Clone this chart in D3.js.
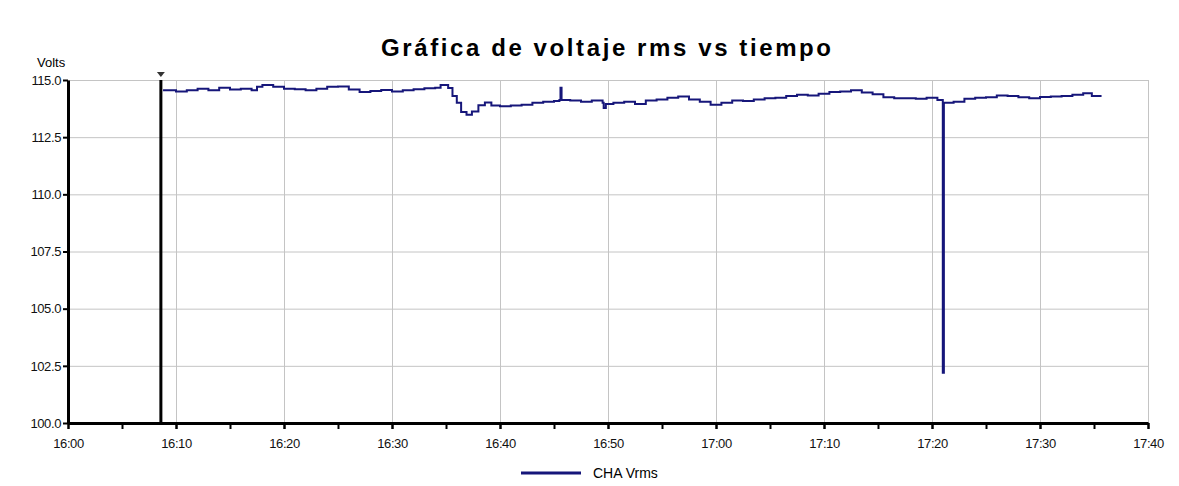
<!DOCTYPE html>
<html>
<head>
<meta charset="utf-8">
<script src="https://cdn.jsdelivr.net/npm/d3@7"></script>
<style>
  body { margin: 0; background: #fff; font-family: "Liberation Sans", Arial, sans-serif; }
  .grid line { stroke: #c4c4c4; stroke-width: 1; }
  .grid path { display: none; }
  .axis text { font-size: 13px; fill: #111; letter-spacing: -0.4px; }
  .axis path, .axis line { stroke: #000; }
</style>
</head>
<body>
<div id="container"></div>
<script>
// minutes after 16:00 for each sample and the CHA Vrms reading
const minutes = [8.8, 10, 11, 12, 13, 14, 15, 16, 17, 17.5, 18, 19, 20, 21, 22, 23, 24, 25, 26, 27, 28, 29, 30,
  31, 32, 33, 34, 34.5, 35.2, 35.6, 36, 36.4, 36.9, 37.4, 38, 38.6, 39.2, 40, 41, 42, 43, 44, 45, 45.5, 45.6, 45.7,
  46.5, 47.5, 48.5, 49.5, 49.6, 49.8, 50.5, 51.5, 52.5, 53.5, 54.5, 55.5, 56.5, 57.5, 58.5, 59.5, 60.5, 61.5,
  62.5, 63.5, 64.5, 65.5, 66.5, 67.5, 68.5, 69.5, 70.5, 71.5, 72.5, 73.5, 74.5, 75.5, 76.5, 77.5, 78.5, 79.5,
  80.5, 81.0, 81.1, 82, 83, 84, 85, 86, 87, 88, 89, 90, 91, 92, 93, 94, 94.8, 95.7];
const vrms = [114.55, 114.50, 114.55, 114.62, 114.55, 114.66, 114.58, 114.62, 114.55, 114.70, 114.78, 114.70,
  114.62, 114.60, 114.55, 114.62, 114.70, 114.72, 114.58, 114.48, 114.52, 114.56, 114.50, 114.55, 114.60,
  114.64, 114.66, 114.78, 114.65, 114.30, 114.00, 113.60, 113.48, 113.62, 113.90, 114.02, 113.88, 113.85,
  113.88, 113.92, 114.00, 114.05, 114.08, 114.12, 114.66, 114.12, 114.10, 114.05, 114.10, 114.00, 113.78,
  113.95, 114.00, 114.05, 113.95, 114.10, 114.15, 114.22, 114.28, 114.15, 114.05, 113.92, 114.00, 114.10,
  114.08, 114.15, 114.20, 114.22, 114.30, 114.35, 114.32, 114.40, 114.48, 114.50, 114.55, 114.45, 114.38,
  114.25, 114.20, 114.20, 114.18, 114.22, 114.12, 102.2, 114.00, 114.05, 114.18, 114.22, 114.25, 114.32,
  114.30, 114.25, 114.20, 114.26, 114.28, 114.30, 114.35, 114.42, 114.30, 114.30];
const yTicks = [100.0, 102.5, 105.0, 107.5, 110.0, 112.5, 115.0];
const cursorMinute = 8.6;
const seriesName = "CHA Vrms";

const W = 1179, H = 486;
const margin = {left: 68, right: 31, top: 80, bottom: 63};
const width = W - margin.left - margin.right;
const height = H - margin.top - margin.bottom;

const base = new Date(2000, 0, 1, 16, 0, 0);
const toDate = m => new Date(base.getTime() + m * 60000);
const data = minutes.map((m, i) => ({t: toDate(m), v: vrms[i]}));

const svg = d3.select("#container").append("svg")
  .attr("width", W)
  .attr("height", H);

const chart = svg.append("g")
  .attr("transform", `translate(${margin.left},${margin.top})`);

const x = d3.scaleTime()
  .domain([toDate(0), toDate(100)])
  .range([0, width]);

const y = d3.scaleLinear()
  .domain([100, 115])
  .range([height, 0]);

// grid
chart.append("g")
  .attr("class", "grid")
  .attr("transform", `translate(0,${height})`)
  .call(d3.axisBottom(x).ticks(d3.timeMinute.every(10)).tickSize(-height).tickFormat(""));

chart.append("g")
  .attr("class", "grid")
  .call(d3.axisLeft(y).tickValues(yTicks).tickSize(-width).tickFormat(""));

// minor ticks every 5 min
chart.append("g")
  .attr("class", "axis")
  .attr("transform", `translate(0,${height})`)
  .call(d3.axisBottom(x).ticks(d3.timeMinute.every(5)).tickSize(6).tickFormat(""))
  .call(g => g.selectAll("line").attr("stroke-width", 2))
  .call(g => g.select(".domain").remove());

// x axis
chart.append("g")
  .attr("class", "axis")
  .attr("transform", `translate(0,${height})`)
  .call(d3.axisBottom(x).ticks(d3.timeMinute.every(10)).tickFormat(d3.timeFormat("%H:%M")).tickSize(6).tickSizeOuter(0))
  .call(g => g.select(".domain").attr("stroke-width", 3))
  .call(g => g.selectAll("line").attr("stroke-width", 2))
  .call(g => g.selectAll("text").attr("dy", "1.2em"));

// y axis
chart.append("g")
  .attr("class", "axis")
  .call(d3.axisLeft(y).tickValues(yTicks).tickFormat(d3.format(".1f")).tickSize(5).tickSizeOuter(0))
  .call(g => g.select(".domain").attr("stroke-width", 3))
  .call(g => g.selectAll("line").attr("stroke-width", 2))
  .call(g => g.selectAll("text").attr("x", -7));

// series
const line = d3.line()
  .x(d => x(d.t))
  .y(d => y(d.v))
  .curve(d3.curveStepAfter);

chart.append("path")
  .datum(data)
  .attr("fill", "none")
  .attr("stroke", "#16167a")
  .attr("stroke-width", 2)
  .attr("d", line);

// cursor
const cx = x(toDate(cursorMinute));
chart.append("line")
  .attr("x1", cx).attr("x2", cx)
  .attr("y1", 0).attr("y2", height)
  .attr("stroke", "#000")
  .attr("stroke-width", 3);
chart.append("path")
  .attr("d", `M${cx - 4},-8 L${cx + 4},-8 L${cx},-3 Z`)
  .attr("fill", "#333");

// title + labels
svg.append("text")
  .attr("x", 606)
  .attr("y", 56)
  .attr("text-anchor", "middle")
  .attr("textLength", 450)
  .attr("lengthAdjust", "spacing")
  .style("font-size", "24px")
  .style("font-weight", "bold")
  .text("Gráfica de voltaje rms vs tiempo");

svg.append("text")
  .attr("x", 37)
  .attr("y", 67)
  .style("font-size", "13px")
  .text("Volts");

// legend
svg.append("line")
  .attr("x1", 521).attr("x2", 581)
  .attr("y1", 473).attr("y2", 473)
  .attr("stroke", "#16167a")
  .attr("stroke-width", 3);
svg.append("text")
  .attr("x", 593)
  .attr("y", 478)
  .style("font-size", "14px")
  .text(seriesName);
</script>
</body>
</html>
